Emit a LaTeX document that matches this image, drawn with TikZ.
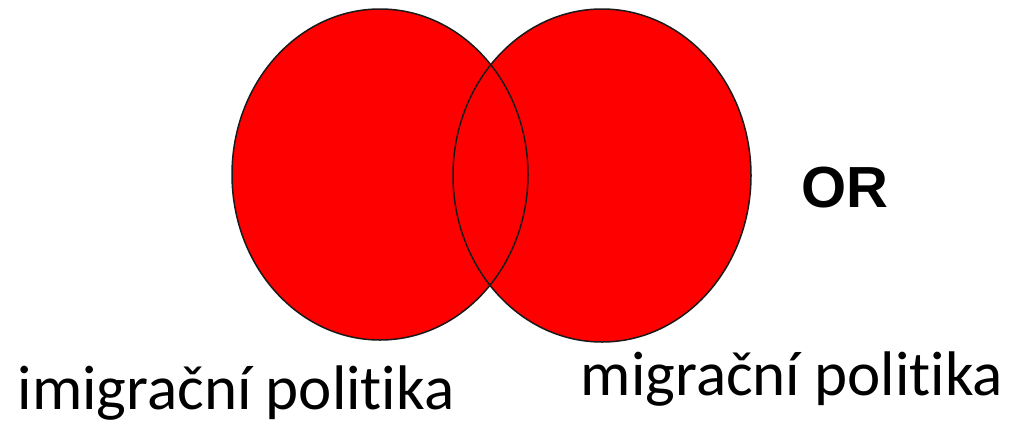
\documentclass[tikz,border=0pt]{standalone}
\usepackage{fontspec}
\setmainfont{Carlito}[Ligatures=NoCommon]
\newfontfamily\orfont{Liberation Sans}
\usetikzlibrary{shapes.geometric}
\definecolor{vennred}{HTML}{FF0000}
\definecolor{vennrim}{HTML}{1A1A1A}

\begin{document}
\begin{tikzpicture}[x=1pt,y=-1pt]
  \useasboundingbox (0,0) rectangle (1019,424);
  \node[ellipse,fill=vennred,inner sep=0,minimum width=296pt,minimum height=331pt] (imig) at (380,174.5) {};
  \node[ellipse,fill=vennred,inner sep=0,minimum width=298pt,minimum height=333pt] (mig) at (602,175.5) {};
  \draw[vennrim,line width=1.5pt] (imig.center) ellipse [x radius=148pt,y radius=165.5pt];
  \draw[vennrim,line width=1.5pt] (mig.center) ellipse [x radius=149pt,y radius=166.5pt];
  \node[anchor=base,inner sep=0,font=\orfont\bfseries\fontsize{58}{66}\selectfont] (or) at (845,207) {OR};
  \node[anchor=base,inner sep=0,font=\fontsize{63}{72}\selectfont] (imiglabel) at (236,409) {imigrační politika};
  \node[anchor=base,inner sep=0,font=\fontsize{63}{72}\selectfont] (miglabel) at (792,395) {migrační politika};
\end{tikzpicture}
\end{document}
